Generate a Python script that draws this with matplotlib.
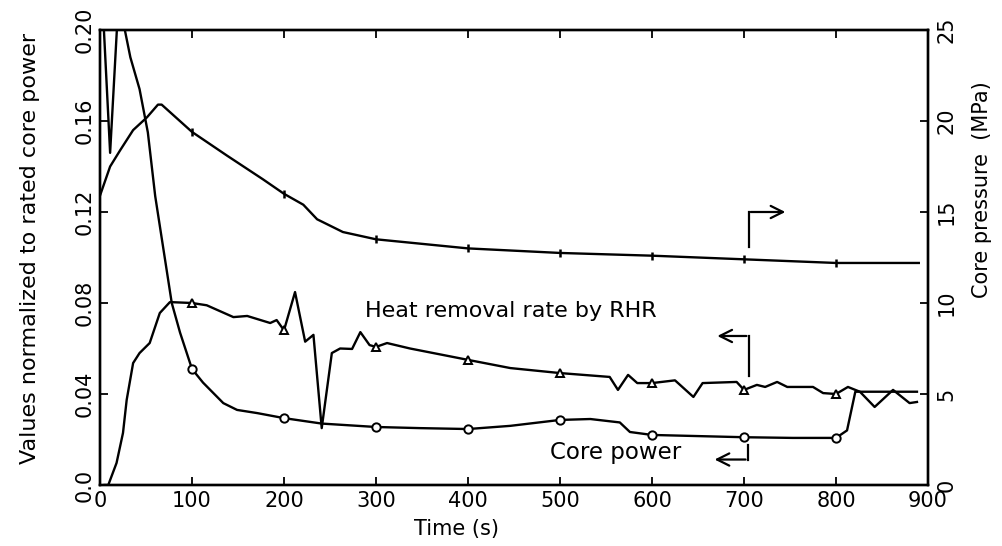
import numpy as np
import matplotlib
matplotlib.use("Agg")
import matplotlib.pyplot as plt

# ---- data ----
t_power = [0, 3, 11, 19, 23, 27, 33, 43, 52, 60, 78, 87, 100, 112, 134, 149, 171, 200,
           241, 300, 348, 400, 446, 500, 533, 565, 576, 600, 700, 753, 800, 812, 821, 860, 888]
core_power = [1.0, 0.21, 0.146, 0.205, 0.21, 0.2, 0.188, 0.174, 0.155, 0.127, 0.080, 0.067,
              0.051, 0.045, 0.036, 0.033, 0.0316, 0.0294, 0.027, 0.0255, 0.025, 0.0246,
              0.026, 0.0286, 0.029, 0.0275, 0.0233, 0.022, 0.021, 0.0207, 0.0207, 0.024,
              0.041, 0.041, 0.041]

t_rhr = [5, 9, 18, 25, 29, 36, 43, 54, 65, 76, 100, 116, 145, 160, 185, 192, 200, 212, 223,
         232, 241, 252, 261, 274, 283, 293, 300, 312, 337, 400, 446, 500, 554, 563, 574,
         584, 600, 625, 645, 655, 692, 700, 714, 723, 736, 747, 775, 786, 800, 813, 821,
         826, 842, 862, 880, 888]
heat_removal = [0.0, 0.0, 0.0097, 0.0229, 0.0374, 0.0536, 0.058, 0.0624, 0.0756, 0.0804,
                0.080, 0.079, 0.0738, 0.0743, 0.0712, 0.0725, 0.068, 0.0848, 0.063, 0.066,
                0.025, 0.058, 0.060, 0.0598, 0.0672, 0.0615, 0.0607, 0.0624, 0.060, 0.055,
                0.0514, 0.0492, 0.0475, 0.0418, 0.0484, 0.0448, 0.0448, 0.046, 0.0387,
                0.0448, 0.0453, 0.0418, 0.044, 0.0431, 0.0453, 0.0431, 0.0431, 0.0404,
                0.040, 0.0431, 0.0418, 0.041, 0.0343, 0.0418, 0.036, 0.0365]

t_press = [0, 11, 22, 36, 51, 63, 67, 100, 138, 177, 200, 221, 236, 264, 300, 400, 500,
           600, 700, 800, 890]
core_pressure = [15.9, 17.5, 18.4, 19.5, 20.2, 20.9, 20.9, 19.4, 18.1, 16.8, 16.0, 15.4,
                 14.6, 13.9, 13.5, 13.0, 12.75, 12.6, 12.4, 12.2, 12.2]

marker_times = [100, 200, 300, 400, 500, 600, 700, 800]

x_ticks = [0, 100, 200, 300, 400, 500, 600, 700, 800, 900]
left_ticks = [0.0, 0.04, 0.08, 0.12, 0.16, 0.20]
left_labels = ["0.0", "0.04", "0.08", "0.12", "0.16", "0.20"]
right_ticks = [0, 5, 10, 15, 20, 25]
right_labels = ["0", "5", "10", "15", "20", "25"]

plt.rcParams['font.family'] = ['DejaVu Sans']
fs = 15

fig = plt.figure(figsize=(10.03, 5.46), dpi=100)
ax = fig.add_axes([100/1003, 1-485/546, 828/1003, 455/546])
ax2 = ax.twinx()

def mk(ts):
    return [i for i, t in enumerate(ts) if t in marker_times]

lw = 1.7
ax.plot(t_power, core_power, color='black', lw=lw, marker='o', markevery=mk(t_power),
        ms=6, mfc='white', mec='black', mew=1.4)
ax.plot(t_rhr, heat_removal, color='black', lw=lw, marker='^', markevery=mk(t_rhr),
        ms=6, mfc='white', mec='black', mew=1.4)
ax2.plot(t_press, core_pressure, color='black', lw=lw, marker='|', markevery=mk(t_press),
         ms=6, mec='black', mew=1.8)

ax.set_xlim(0, 900)
ax.set_ylim(0, 0.20)
ax2.set_ylim(0, 25)

ax.set_xticks(x_ticks)
ax.set_xticklabels([str(v) for v in x_ticks], fontsize=fs)
ax.set_yticks(left_ticks)
ax.set_yticklabels(left_labels, fontsize=fs, rotation=90, va='center')
ax2.set_yticks(right_ticks)
ax2.set_yticklabels(right_labels, fontsize=fs, rotation=90, va='center')

ax.tick_params(axis='both', direction='in', length=6, width=1.3, top=True, pad=4)
ax2.tick_params(axis='y', direction='in', length=6, width=1.3, pad=6)
for a in (ax, ax2):
    for s in a.spines.values():
        s.set_linewidth(1.7)

ax.set_xlabel("Time (s)", fontsize=fs)
ax.xaxis.set_label_coords(0.43, -0.075)
ax.set_ylabel("Values normalized to rated core power", fontsize=16)
ax.yaxis.set_label_coords(-0.072, 0.52)
ax2.set_ylabel("Core pressure  (MPa)", fontsize=fs)
ax2.yaxis.set_label_coords(1.053, 0.65)

# annotations
ax.text(447, 0.0765, "Heat removal rate by RHR", fontsize=fs + 1, ha='center', va='center')
ax.text(560, 0.0145, "Core power", fontsize=fs + 1.5, ha='center', va='center')

arrow = dict(arrowstyle='->', color='black', lw=1.6, mutation_scale=22)
# pressure arrow (points right)
ax.plot([705, 705], [0.1045, 0.12], color='black', lw=1.6)
ax.annotate("", xy=(748, 0.12), xytext=(704.3, 0.12), arrowprops=arrow)
# heat removal arrow (points left)
ax.plot([705, 705], [0.048, 0.0655], color='black', lw=1.6)
ax.annotate("", xy=(668, 0.0655), xytext=(705.7, 0.0655), arrowprops=arrow)
# core power arrow (points left)
ax.plot([704, 704], [0.0175, 0.0112], color='black', lw=1.6)
ax.annotate("", xy=(665, 0.0112), xytext=(704.7, 0.0112), arrowprops=arrow)

fig.savefig("out.png", dpi=100)
